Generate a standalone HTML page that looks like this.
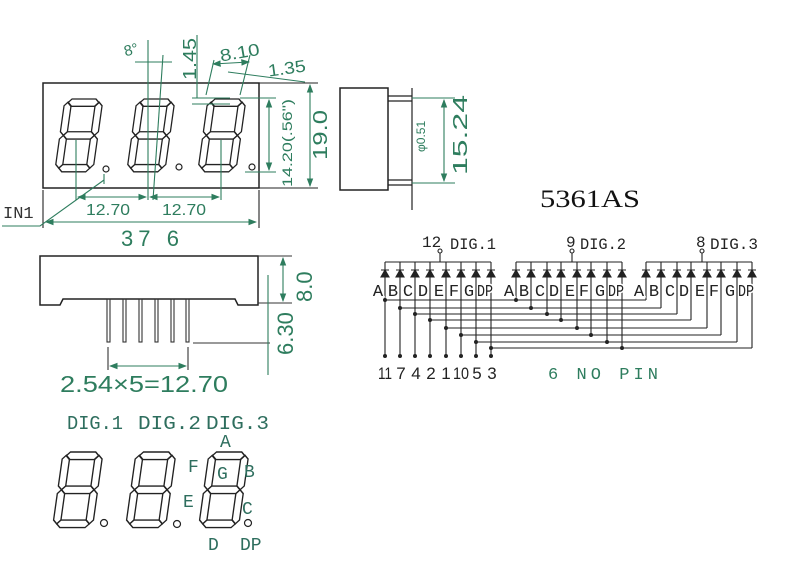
<!DOCTYPE html>
<html><head><meta charset="utf-8"><style>
html,body{margin:0;padding:0;background:#fff;}
svg{display:block;}
</style></head><body>
<svg width="790" height="588" viewBox="0 0 790 588" xmlns="http://www.w3.org/2000/svg" font-family="Liberation Sans, sans-serif">
<defs>
<g id="dig" fill="none" stroke="#222" stroke-width="1.3">
<polygon points="6.5,3.5 10,0 34,0 37.5,3.5 34,7 10,7"/>
<polygon points="6.5,35 10,31.5 34,31.5 37.5,35 34,38.5 10,38.5"/>
<polygon points="6.5,66.5 10,63 34,63 37.5,66.5 34,70 10,70"/>
<polygon points="6.5,3 10,6.5 10,31.5 6.5,35 3,31.5 3,6.5"/>
<polygon points="37.5,3 41,6.5 41,31.5 37.5,35 34,31.5 34,6.5"/>
<polygon points="6.5,35 10,38.5 10,63 6.5,66.5 3,63 3,38.5"/>
<polygon points="37.5,35 41,38.5 41,63 37.5,66.5 34,63 34,38.5"/>
</g>
<marker id="ar" markerWidth="8" markerHeight="6" refX="7" refY="3" orient="auto-start-reverse"><path d="M0,0 L8,3 L0,6z" fill="#2e7d5e"/></marker>
</defs>

<!-- TOP VIEW -->
<rect x="43" y="83" width="216" height="105" fill="none" stroke="#222" stroke-width="1.5"/>
<use href="#dig" transform="translate(62,99) skewX(-8) scale(1,1.04)"/>
<use href="#dig" transform="translate(134,99) skewX(-8) scale(1,1.04)"/>
<use href="#dig" transform="translate(205,99) skewX(-8) scale(1,1.04)"/>
<g fill="none" stroke="#222" stroke-width="1.2">
<circle cx="106" cy="169" r="3"/><circle cx="179" cy="167" r="3"/><circle cx="252" cy="167" r="3"/>
</g>
<g stroke="#2e7d5e" stroke-width="1.1" fill="none">
<line x1="259" y1="83" x2="318" y2="83" stroke="#222"/>
<line x1="259" y1="188" x2="318" y2="188" stroke="#222"/>
<line x1="310" y1="85" x2="310" y2="186" marker-start="url(#ar)" marker-end="url(#ar)"/>
<line x1="240" y1="98" x2="276" y2="98"/>
<line x1="245" y1="172" x2="276" y2="172"/>
<line x1="269" y1="100" x2="269" y2="170" marker-start="url(#ar)" marker-end="url(#ar)"/>
<line x1="76" y1="140" x2="76" y2="200"/>
<line x1="148" y1="40" x2="148" y2="200"/>
<line x1="221" y1="140" x2="221" y2="200"/>
<line x1="78" y1="197" x2="146" y2="197" marker-start="url(#ar)" marker-end="url(#ar)"/>
<line x1="150" y1="197" x2="219" y2="197" marker-start="url(#ar)" marker-end="url(#ar)"/>
<line x1="43" y1="190" x2="43" y2="228" stroke="#222"/>
<line x1="259" y1="190" x2="259" y2="228" stroke="#222"/>
<line x1="46" y1="222" x2="256" y2="222" marker-start="url(#ar)" marker-end="url(#ar)"/>
<polyline points="2,226 40,226 104,180"/>
<line x1="104" y1="174" x2="104" y2="184"/>
<line x1="153" y1="200" x2="163" y2="55"/>
<line x1="135" y1="62" x2="172" y2="62"/>
<line x1="197" y1="35" x2="197" y2="98"/>
<line x1="192" y1="98" x2="230" y2="98"/>
<line x1="192" y1="104" x2="230" y2="104"/>
<line x1="206" y1="95" x2="214" y2="60"/>
<line x1="240" y1="95" x2="250" y2="55"/>
<line x1="213" y1="64" x2="249" y2="62" marker-start="url(#ar)" marker-end="url(#ar)"/>
<line x1="228" y1="72" x2="305" y2="82"/>
</g>
<g fill="#2e7d5e" font-size="15">
<text x="124" y="55" transform="rotate(-15 130 50)">8°</text>
<text x="196" y="80" transform="rotate(-90 196 80)" font-size="18" textLength="42" lengthAdjust="spacingAndGlyphs">1.45</text>
<text x="220" y="60" transform="rotate(-10 230 55)" font-size="17" textLength="40" lengthAdjust="spacingAndGlyphs">8.10</text>
<text x="268" y="75" transform="rotate(-8 280 70)" font-size="17" textLength="38" lengthAdjust="spacingAndGlyphs">1.35</text>
<text x="327" y="160" transform="rotate(-90 327 160)" font-size="20" textLength="50" lengthAdjust="spacingAndGlyphs">19.0</text>
<text x="292" y="187" transform="rotate(-90 292 187)" font-size="14" textLength="88" lengthAdjust="spacingAndGlyphs">14.20(.56")</text>
<text x="86" y="215" font-size="16" textLength="44" lengthAdjust="spacingAndGlyphs">12.70</text>
<text x="162" y="215" font-size="16" textLength="44" lengthAdjust="spacingAndGlyphs">12.70</text>
<text x="121" y="246" font-size="22" textLength="58" lengthAdjust="spacing">37 6</text>
</g>
<text x="3" y="218" font-size="17" fill="#333" font-family="Liberation Mono, monospace">IN1</text>

<!-- SIDE VIEW -->
<rect x="340" y="88" width="48" height="102" fill="none" stroke="#222" stroke-width="1.5"/>
<g stroke="#222" stroke-width="1.2" fill="none">
<polyline points="388,96 412,96"/><polyline points="388,101 412,101"/>
<polyline points="388,180 412,180"/><polyline points="388,185 412,185"/>
<line x1="412" y1="88" x2="412" y2="210"/>
</g>
<g stroke="#2e7d5e" stroke-width="1.1" fill="none">
<line x1="412" y1="98" x2="455" y2="98"/>
<line x1="412" y1="183" x2="455" y2="183"/>
<line x1="444" y1="100" x2="444" y2="181" marker-start="url(#ar)" marker-end="url(#ar)"/>
</g>
<text x="467" y="175" transform="rotate(-90 467 175)" font-size="20" fill="#2e7d5e" textLength="80" lengthAdjust="spacingAndGlyphs">15.24</text>
<text x="425" y="152" transform="rotate(-90 425 152)" font-size="12" fill="#2e7d5e">φ0.51</text>

<text x="540" y="207" font-family="Liberation Serif, serif" font-size="25" fill="#111" textLength="100" lengthAdjust="spacingAndGlyphs">5361AS</text>

<!-- FRONT VIEW -->
<polygon points="40,256 258,256 258,305 238,305 235,299 63,299 60,305 40,305" fill="none" stroke="#222" stroke-width="1.5"/>
<g stroke="#333" stroke-width="1.1" fill="none">
<rect x="107" y="299" width="3" height="43"/><rect x="123" y="299" width="3" height="43"/>
<rect x="139" y="299" width="3" height="43"/><rect x="155" y="299" width="3" height="43"/>
<rect x="171" y="299" width="3" height="43"/><rect x="186" y="299" width="3" height="43"/>
<line x1="193" y1="343" x2="270" y2="343"/>
<line x1="258" y1="256" x2="292" y2="256"/>
<line x1="258" y1="303" x2="292" y2="303"/>
<line x1="108" y1="347" x2="108" y2="370"/><line x1="188" y1="347" x2="188" y2="370"/>
</g>
<g stroke="#2e7d5e" stroke-width="1.1" fill="none">
<line x1="283" y1="258" x2="283" y2="301" marker-start="url(#ar)" marker-end="url(#ar)"/>
<line x1="268" y1="275" x2="268" y2="375"/>
<line x1="110" y1="366" x2="186" y2="366" marker-start="url(#ar)" marker-end="url(#ar)"/>
</g>
<text x="312" y="302" transform="rotate(-90 312 302)" font-size="22" fill="#2e7d5e">8.0</text>
<text x="293" y="355" transform="rotate(-90 293 355)" font-size="22" fill="#2e7d5e">6.30</text>
<text x="60" y="392" font-size="23" fill="#2e7d5e" textLength="168" lengthAdjust="spacingAndGlyphs">2.54×5=12.70</text>

<!-- BOTTOM DIGITS -->
<g font-family="Liberation Mono, monospace" font-size="19" fill="#2e6e5e">
<text x="67" y="429" textLength="56" lengthAdjust="spacingAndGlyphs">DIG.1</text>
<text x="138" y="429" textLength="63" lengthAdjust="spacingAndGlyphs">DIG.2</text>
<text x="206" y="429" textLength="63" lengthAdjust="spacingAndGlyphs">DIG.3</text>
</g>
<use href="#dig" transform="translate(60,452) skewX(-8) scale(1.05,1.08)"/>
<use href="#dig" transform="translate(133,452) skewX(-8) scale(1.05,1.08)"/>
<use href="#dig" transform="translate(206,452) skewX(-8) scale(1.05,1.08)"/>
<g fill="none" stroke="#222" stroke-width="1.2">
<circle cx="104" cy="523" r="3.5"/><circle cx="177" cy="524" r="3.5"/><circle cx="248" cy="523" r="3.5"/>
</g>
<g font-size="18" fill="#2e6e5e" font-family="Liberation Mono, monospace">
<text x="220" y="447">A</text><text x="188" y="472">F</text><text x="217" y="479">G</text>
<text x="244" y="477">B</text><text x="183" y="507">E</text><text x="242" y="514">C</text>
<text x="208" y="550">D</text><text x="240" y="550">DP</text>
</g>

<!-- SCHEMATIC -->
<g stroke="#222" stroke-width="1.1" fill="none">
<line x1="385" y1="262" x2="491" y2="262"/><line x1="440" y1="262" x2="440" y2="253"/><circle cx="440" cy="251" r="2"/>
<line x1="516" y1="262" x2="622" y2="262"/><line x1="572" y1="262" x2="572" y2="253"/><circle cx="572" cy="251" r="2"/>
<line x1="646" y1="262" x2="752" y2="262"/><line x1="702" y1="262" x2="702" y2="253"/><circle cx="702" cy="251" r="2"/>
</g>
<g font-family="Liberation Mono, monospace" font-size="16" fill="#222">
<text x="422" y="247">12</text><text x="450" y="249" textLength="46" lengthAdjust="spacingAndGlyphs">DIG.1</text>
<text x="566" y="247">9</text><text x="580" y="249" textLength="46" lengthAdjust="spacingAndGlyphs">DIG.2</text>
<text x="696" y="247">8</text><text x="710" y="249" textLength="48" lengthAdjust="spacingAndGlyphs">DIG.3</text>
</g>
<g stroke="#222" stroke-width="1.1" fill="#222">
<path d="M381,277 L389,277 L385,270z M381,270h8 M396,277 L404,277 L400,270z M396,270h8 M411,277 L419,277 L415,270z M411,270h8 M426,277 L434,277 L430,270z M426,270h8 M442,277 L450,277 L446,270z M442,270h8 M457,277 L465,277 L461,270z M457,270h8 M472,277 L480,277 L476,270z M472,270h8 M487,277 L495,277 L491,270z M487,270h8"/>
<path d="M512,277 L520,277 L516,270z M512,270h8 M527,277 L535,277 L531,270z M527,270h8 M543,277 L551,277 L547,270z M543,270h8 M557,277 L565,277 L561,270z M557,270h8 M573,277 L581,277 L577,270z M573,270h8 M587,277 L595,277 L591,270z M587,270h8 M603,277 L611,277 L607,270z M603,270h8 M618,277 L626,277 L622,270z M618,270h8"/>
<path d="M642,277 L650,277 L646,270z M642,270h8 M657,277 L665,277 L661,270z M657,270h8 M673,277 L681,277 L677,270z M673,270h8 M687,277 L695,277 L691,270z M687,270h8 M703,277 L711,277 L707,270z M703,270h8 M717,277 L725,277 L721,270z M717,270h8 M733,277 L741,277 L737,270z M733,270h8 M748,277 L756,277 L752,270z M748,270h8"/>
</g>
<g stroke="#222" stroke-width="1.1" fill="none">
<path d="M385,262V355 M400,262V355 M415,262V355 M430,262V355 M446,262V355 M461,262V355 M476,262V355 M491,262V355"/>
<path d="M516,262V300 M531,262V308 M547,262V314 M561,262V320 M577,262V328 M591,262V335 M607,262V342 M622,262V348"/>
<path d="M646,262V300 M661,262V308 M677,262V314 M691,262V320 M707,262V328 M721,262V335 M737,262V342 M752,262V348"/>
<path d="M385,300H646 M400,308H661 M415,314H677 M430,320H691 M446,328H707 M461,335H721 M476,342H737 M491,348H752"/>
</g>
<g fill="#222">
<circle cx="385" cy="300" r="2"/><circle cx="516" cy="300" r="2"/>
<circle cx="400" cy="308" r="2"/><circle cx="531" cy="308" r="2"/>
<circle cx="415" cy="314" r="2"/><circle cx="547" cy="314" r="2"/>
<circle cx="430" cy="320" r="2"/><circle cx="561" cy="320" r="2"/>
<circle cx="446" cy="328" r="2"/><circle cx="577" cy="328" r="2"/>
<circle cx="461" cy="335" r="2"/><circle cx="591" cy="335" r="2"/>
<circle cx="476" cy="342" r="2"/><circle cx="607" cy="342" r="2"/>
<circle cx="491" cy="348" r="2"/><circle cx="622" cy="348" r="2"/>
<circle cx="385" cy="356" r="2"/><circle cx="400" cy="356" r="2"/><circle cx="415" cy="356" r="2"/><circle cx="430" cy="356" r="2"/>
<circle cx="446" cy="356" r="2"/><circle cx="461" cy="356" r="2"/><circle cx="476" cy="356" r="2"/><circle cx="491" cy="356" r="2"/>
</g>
<g font-size="17" fill="#222" text-anchor="middle" stroke="#fff" stroke-width="3" paint-order="stroke" font-family="Liberation Mono, monospace">
<text x="378" y="296">A</text><text x="393" y="296">B</text><text x="408" y="296">C</text><text x="423" y="296">D</text><text x="439" y="296">E</text><text x="454" y="296">F</text><text x="469" y="296">G</text><text x="485" y="296" textLength="16" lengthAdjust="spacingAndGlyphs">DP</text>
<text x="509" y="296">A</text><text x="524" y="296">B</text><text x="540" y="296">C</text><text x="554" y="296">D</text><text x="570" y="296">E</text><text x="584" y="296">F</text><text x="600" y="296">G</text><text x="616" y="296" textLength="16" lengthAdjust="spacingAndGlyphs">DP</text>
<text x="639" y="296">A</text><text x="654" y="296">B</text><text x="670" y="296">C</text><text x="684" y="296">D</text><text x="700" y="296">E</text><text x="714" y="296">F</text><text x="730" y="296">G</text><text x="746" y="296" textLength="16" lengthAdjust="spacingAndGlyphs">DP</text>
</g>
<g font-size="17" fill="#222" text-anchor="middle">
<text x="385" y="379" textLength="14" lengthAdjust="spacingAndGlyphs">11</text><text x="401" y="379">7</text><text x="416" y="379">4</text><text x="431" y="379">2</text><text x="446" y="379">1</text><text x="461" y="379" textLength="16" lengthAdjust="spacingAndGlyphs">10</text><text x="477" y="379">5</text><text x="492" y="379">3</text>
</g>
<text x="548" y="379" font-family="Liberation Mono, monospace" font-size="17" fill="#2e7d5e" textLength="110" lengthAdjust="spacing">6  NO PIN</text>
</svg>
</body></html>
